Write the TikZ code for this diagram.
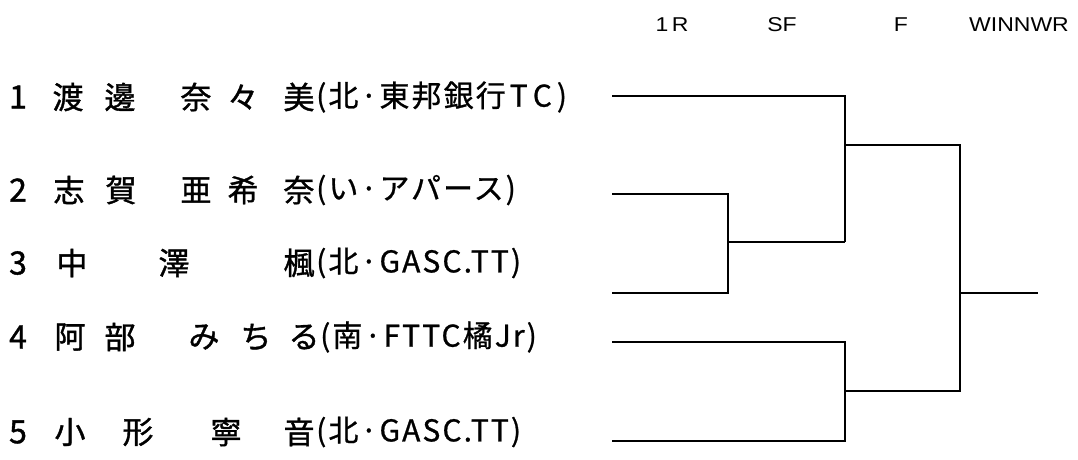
\documentclass[tikz,border=0pt]{standalone}
\usepackage{fontspec}
\setmainfont{Noto Sans CJK JP}
\newfontfamily\nmfont[FakeBold=1.2]{Noto Sans CJK JP}
\newfontfamily\afffont[FakeBold=0.8,LetterSpace=7]{Noto Sans CJK JP}
\newfontfamily\hdfont{Liberation Sans}
\newcommand{\hdtext}[1]{\scalebox{1.15}[1]{#1}}
\begin{document}
\begin{tikzpicture}[x=1pt,y=-1pt,
  br/.style={line width=2pt, line join=miter},
  num/.style={font=\nmfont\fontsize{32}{32}\selectfont, inner sep=0pt},
  nm/.style={font=\nmfont\fontsize{31}{31}\selectfont, inner sep=0pt},
  aff/.style={font=\afffont\fontsize{30}{30}\selectfont, inner sep=0pt, anchor=west},
  hd/.style={font=\hdfont\fontsize{20}{20}\selectfont, inner sep=0pt}]
\useasboundingbox (0,0) rectangle (1078,459);
% headers
\node[hd] (h1) at (672,25) {\hdtext{1\kern3pt R}};
\node[hd] (h2) at (782,25) {\hdtext{SF}};
\node[hd] (h3) at (901,25) {\hdtext{F}};
\node[hd] (h4) at (1019,25) {\hdtext{WINNWR}};
% row 1
\node[num] (k1) at (18,97) {1};
\foreach \x/\c [count=\i] in {68/渡,120/邊,196/奈,243/々,299/美}
  \node[nm] (n1\i) at (\x,97) {\c};
\node[aff] (a1) at (316,97) {(北·東邦銀行\kern4pt T\kern5pt C\kern5pt)};
% row 2
\node[num] (k2) at (18,190) {2};
\foreach \x/\c [count=\i] in {69/志,121/賀,196/亜,243/希,299/奈}
  \node[nm] (n2\i) at (\x,190) {\c};
\node[aff] (a2) at (316,190) {(い·アパース)};
% row 3
\node[num] (k3) at (18,263) {3};
\foreach \x/\c [count=\i] in {72/中,174/澤,299/楓}
  \node[nm] (n3\i) at (\x,263) {\c};
\node[aff] (a3) at (316,263) {(北·GASC.TT)};
% row 4
\node[num] (k4) at (18,337) {4};
\foreach \x/\c [count=\i] in {70/阿,120/部,204/み,256/ち,304/る}
  \node[nm] (n4\i) at (\x,337) {\c};
\node[aff] (a4) at (320,337) {(南·FTTC橘Jr)};
% row 5
\node[num] (k5) at (18,432) {5};
\foreach \x/\c [count=\i] in {70/小,138/形,226/寧,299/音}
  \node[nm] (n5\i) at (\x,432) {\c};
\node[aff] (a5) at (316,432) {(北·GASC.TT)};
% bracket points
\coordinate (e1s) at (612,96);
\coordinate (e2s) at (612,194);
\coordinate (e3s) at (612,293);
\coordinate (e4s) at (612,342);
\coordinate (e5s) at (612,441);
\coordinate (m23t) at (728,194);
\coordinate (m23b) at (728,293);
\coordinate (m23) at (728,242);
\coordinate (s1t) at (845,96);
\coordinate (s1b) at (845,242);
\coordinate (s1) at (845,145);
\coordinate (s2t) at (845,342);
\coordinate (s2b) at (845,441);
\coordinate (s2) at (845,391);
\coordinate (ft) at (960,145);
\coordinate (fb) at (960,391);
\coordinate (fw) at (960,293);
\coordinate (win) at (1038,293);
\draw[br] (e2s) -- (m23t) -- (m23b) -- (e3s);
\draw[br] (m23) -- (s1b);
\draw[br] (e1s) -- (s1t) -- (s1b);
\draw[br] (s1) -- (ft) -- (fb) -- (s2);
\draw[br] (e4s) -- (s2t) -- (s2b) -- (e5s);
\draw[br] (fw) -- (win);
\end{tikzpicture}
\end{document}
